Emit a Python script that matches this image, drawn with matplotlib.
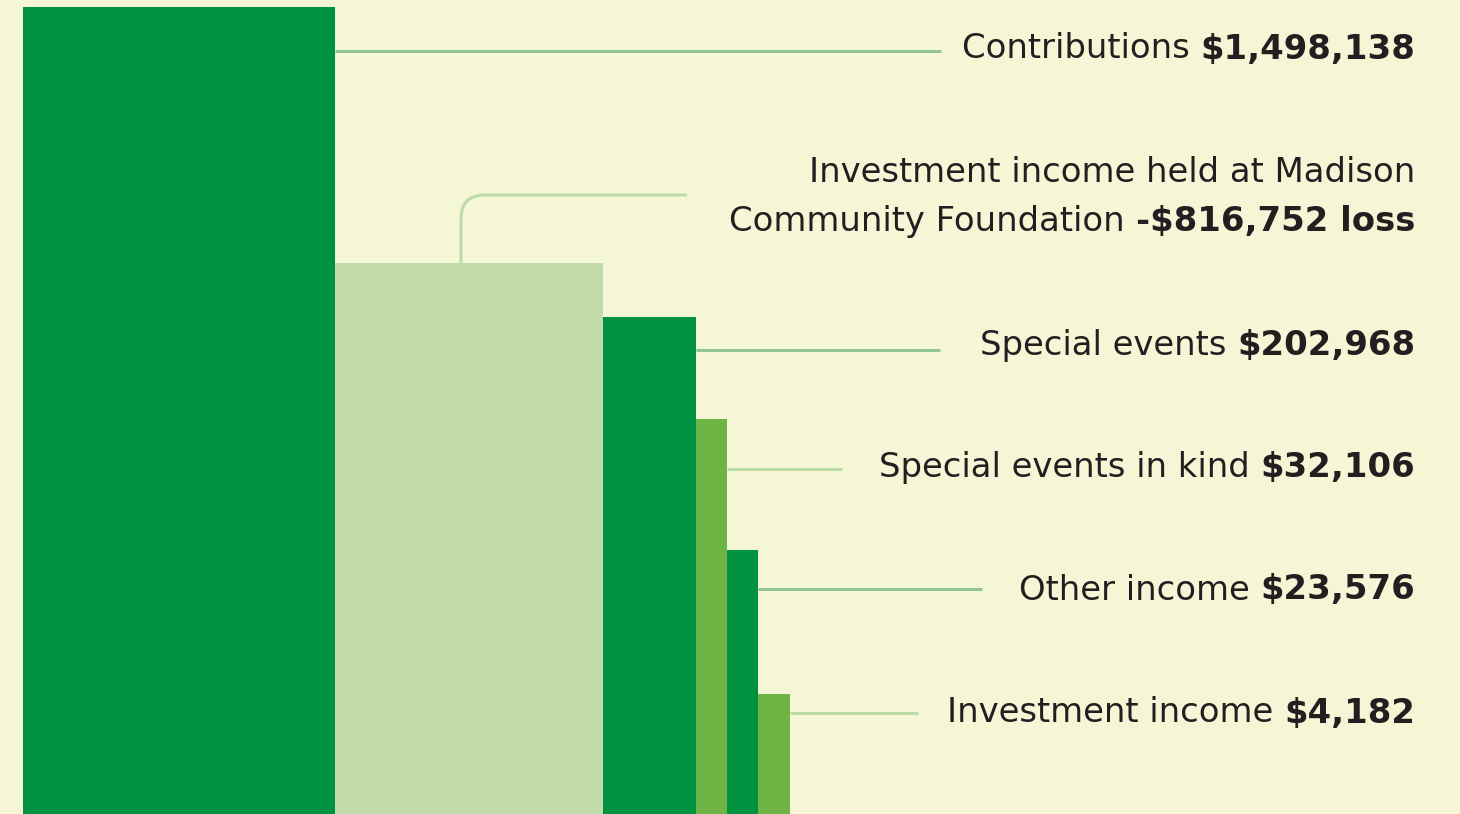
import matplotlib
matplotlib.use("Agg")
import matplotlib.pyplot as plt
from matplotlib.path import Path
from matplotlib.patches import PathPatch

# data (bar sizes are in picture units, the chart is stylised)
labels = ["Contributions", "Investment income held at Madison\nCommunity Foundation",
          "Special events", "Special events in kind", "Other income", "Investment income"]
amounts = ["$1,498,138", "-$816,752 loss", "$202,968", "$32,106", "$23,576", "$4,182"]
bar_heights = [807, 551, 497, 395, 264, 120]
bar_widths = [312, 268, 93, 31, 31, 32]
bar_colors = ["#009241", "#c2dbab", "#009241", "#6db444", "#009241", "#6db444"]
line_colors = ["#93c592", "#bcdca6", "#93c592", "#bcdca6", "#93c592", "#bcdca6"]
line_y = [763, 619, 464, 345, 225, 101]
line_end = [941, 687, 940, 842, 982, 918]
text_y = [765, 0, 469, 347, 224, 101]

BG = "#f5f6d6"
W, H = 1460, 814

fig = plt.figure(figsize=(W / 100, H / 100), dpi=100, facecolor=BG)
ax = fig.add_axes([0, 0, 1, 1])
ax.set_facecolor(BG)
ax.set_xlim(0, W)
ax.set_ylim(0, H)
ax.axis("off")

x0 = 23
lefts = []
for w in bar_widths:
    lefts.append(x0)
    x0 += w
ax.bar(lefts, bar_heights, width=bar_widths, align="edge", color=bar_colors,
       linewidth=0, zorder=2)

for i in range(len(labels)):
    right = lefts[i] + bar_widths[i]
    if i == 1:
        # rounded elbow connector from the top of the bar
        xc = lefts[i] + 126
        r = 24
        verts = [(xc, bar_heights[i]), (xc, line_y[i] - r), (xc, line_y[i]),
                 (xc + r, line_y[i]), (line_end[i], line_y[i])]
        codes = [Path.MOVETO, Path.LINETO, Path.CURVE3, Path.CURVE3, Path.LINETO]
        ax.add_patch(PathPatch(Path(verts, codes), fill=False, ec=line_colors[i],
                               lw=2.2, zorder=1))
    else:
        ax.plot([right, line_end[i]], [line_y[i], line_y[i]], color=line_colors[i],
                lw=2.2, solid_capstyle="butt", zorder=1)

fig.canvas.draw()
renderer = fig.canvas.get_renderer()
inv = ax.transData.inverted()

fs = 24.4
tx = 1415
tc = "#231f20"


def label(y, normal, bold):
    t = ax.text(tx, y, bold, ha="right", va="center", fontsize=fs,
                fontweight="bold", color=tc)
    bb = t.get_window_extent(renderer)
    left = inv.transform((bb.x0, bb.y0))[0]
    ax.text(left, y, normal + " ", ha="right", va="center", fontsize=fs, color=tc)


for i in range(len(labels)):
    if i == 1:
        first, second = labels[i].split("\n")
        ax.text(tx, 642, first, ha="right", va="center", fontsize=fs, color=tc)
        label(592, second, amounts[i])
    else:
        label(text_y[i], labels[i], amounts[i])

fig.savefig("out.png", dpi=100, facecolor=BG)
